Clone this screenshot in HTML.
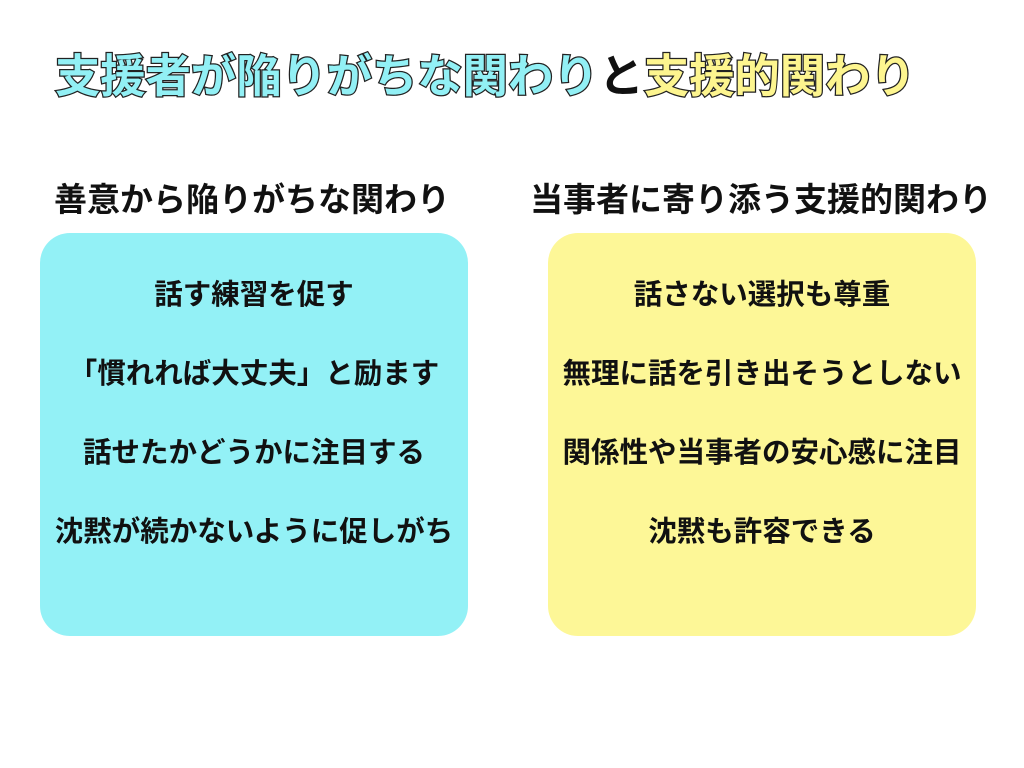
<!DOCTYPE html>
<html><head><meta charset="utf-8"><style>
body{margin:0;width:1024px;height:768px;background:#fff;position:relative;overflow:hidden;font-family:"Liberation Sans","Noto Sans CJK JP",sans-serif;font-weight:bold;color:#111}
.title{position:absolute;left:55px;top:47px;font-size:45.3px;line-height:60px;white-space:nowrap}
.c{color:#92f0f5;-webkit-text-stroke:2.5px #222;paint-order:stroke fill}
.y{color:#fdf58f;-webkit-text-stroke:2.5px #222;paint-order:stroke fill}
.h{position:absolute;top:179px;font-size:33px;line-height:42px;text-align:center;white-space:nowrap}
.box{position:absolute;top:233px;width:428px;height:403px;border-radius:30px}
.it{position:absolute;width:100%;text-align:center;font-size:28.5px;line-height:40px;white-space:nowrap}
</style></head><body>
<div class="title"><span class="c">支援者が陥りがちな関わり</span><span>と</span><span class="y">支援的関わり</span></div>
<div class="h" style="left:2px;width:500px">善意から陥りがちな関わり</div>
<div class="h" style="left:511px;width:500px">当事者に寄り添う支援的関わり</div>
<div class="box" style="left:40px;background:#93f1f6">
<div class="it" style="top:42px">話す練習を促す</div>
<div class="it" style="top:121px">「慣れれば大丈夫」と励ます</div>
<div class="it" style="top:200px">話せたかどうかに注目する</div>
<div class="it" style="top:279px">沈黙が続かないように促しがち</div>
</div>
<div class="box" style="left:548px;background:#fdf797">
<div class="it" style="top:42px">話さない選択も尊重</div>
<div class="it" style="top:121px">無理に話を引き出そうとしない</div>
<div class="it" style="top:200px">関係性や当事者の安心感に注目</div>
<div class="it" style="top:279px">沈黙も許容できる</div>
</div>
</body></html>
